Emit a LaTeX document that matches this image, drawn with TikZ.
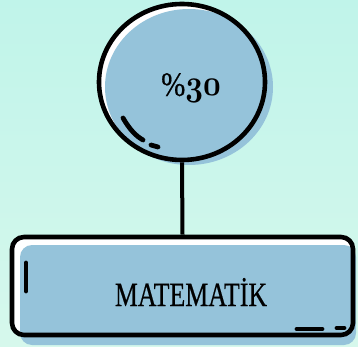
\documentclass[tikz,border=0pt]{standalone}
\usepackage{fontspec}
\setmainfont{Liberation Serif}[FakeBold=0.6]
\usetikzlibrary{calc,shapes.geometric}
\definecolor{bgtop}{HTML}{C0F4EA}
\definecolor{bgbot}{HTML}{D6F8EC}
\definecolor{fillblue}{HTML}{95C3DA}
\tikzset{
  outline/.style={draw=black, line width=4.6pt},
  mark stroke/.style={draw=black, line width=4.8pt, line cap=round},
  lbl/.style={font=\fontsize{34}{36}\selectfont, inner sep=0pt},
  connector/.style={draw=black, line width=4pt}
}
\begin{document}
\begin{tikzpicture}[x=1pt,y=-1pt]
\useasboundingbox (0,0) rectangle (358,347);
\shade[top color=bgtop, bottom color=bgbot] (0,0) rectangle (358,347);
% circle
\fill[white] (182,82) ellipse [x radius=83, y radius=78];
\fill[fillblue] (189,87) ellipse [x radius=84, y radius=78];
\node[outline, ellipse, minimum width=166pt, minimum height=156pt, inner sep=0pt] (circ) at (182,82) {};
\draw[mark stroke] (123,118) .. controls (130,130) and (136,136) .. (143,140);
\draw[mark stroke] (151,145) -- (158,147);
\node[lbl] (pct) at (191,88) {\scalebox{0.85}[1]{\%\scalebox{1.75}{\fontsize{20.74}{22}\usefont{OML}{cmm}{b}{it}30}}};
% box
\fill[white, rounded corners=12pt] (12,237) rectangle (353,335);
\fill[fillblue, rounded corners=12pt] (20,245) rectangle (356,345);
\node[outline, rectangle, rounded corners=12pt, minimum width=341pt, minimum height=98pt, inner sep=0pt] (box) at (182.5,286) {};
\draw[mark stroke] (26,263) -- (26,291);
\draw[mark stroke] (297,329) -- (322,329);
\draw[mark stroke] (337,328) -- (344,328);
\node[lbl] (mat) at (191,292) {\scalebox{0.76}[1]{MATEMATİK}};
% connector
\draw[connector] (circ.south) -- (box.north);
\end{tikzpicture}
\end{document}
